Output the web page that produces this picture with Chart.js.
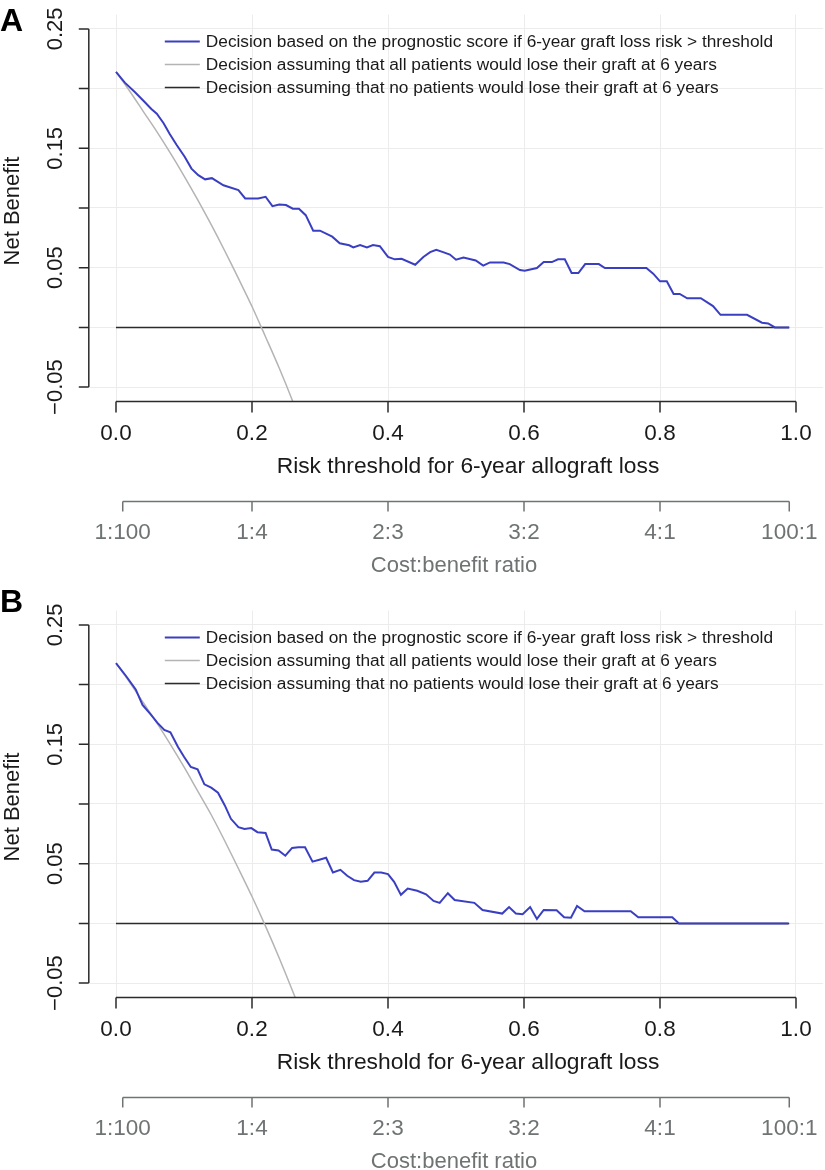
<!DOCTYPE html>
<html>
<head>
<meta charset="utf-8">
<title>Decision curves</title>
<script src="https://cdn.jsdelivr.net/npm/chart.js@4.4.1/dist/chart.umd.min.js"></script>
<style>
  html, body { margin: 0; padding: 0; background: #fff; overflow: hidden; }
  canvas { display: block; }
</style>
</head>
<body>
<canvas id="panelA" width="825" height="576"></canvas>
<canvas id="panelB" width="825" height="594"></canvas>
<script>
// axis ticks and labels
const riskTicks = [0, 0.2, 0.4, 0.6, 0.8, 1.0];
const riskTickLabels = ["0.0", "0.2", "0.4", "0.6", "0.8", "1.0"];
const benefitTicks = [-0.05, 0, 0.05, 0.1, 0.15, 0.2, 0.25];
const benefitTickLabels = ["\u22120.05", "", "0.05", "", "0.15", "", "0.25"];
const ratioTicks = [0.0099, 0.2, 0.4, 0.6, 0.8, 0.9901];
const ratioTickLabels = ["1:100", "1:4", "2:3", "3:2", "4:1", "100:1"];

const legendLabels = [
  "Decision based on the prognostic score if 6-year graft loss risk > threshold",
  "Decision assuming that all patients would lose their graft at 6 years",
  "Decision assuming that no patients would lose their graft at 6 years"
];

// "treat all" curves
const treatAllThresholds = [0, 0.02, 0.04, 0.06, 0.08, 0.10, 0.12, 0.14, 0.16, 0.18, 0.20, 0.22, 0.24, 0.26, 0.28];
const treatAllA = [0.214, 0.198, 0.181, 0.164, 0.146, 0.127, 0.107, 0.086, 0.064, 0.041, 0.0175, -0.008, -0.034, -0.062, -0.092];
const treatAllB = [0.218, 0.202, 0.185, 0.168, 0.150, 0.131, 0.111, 0.091, 0.069, 0.046, 0.0225, -0.0025, -0.029, -0.057, -0.086];

// "treat none" line
const treatNoneThresholds = [0, 0.99];
const treatNoneValues = [0, 0];

// panel A: prognostic score curve
const modelThresholdsA = [
  0, 0.013, 0.028, 0.040, 0.052, 0.060, 0.070, 0.079, 0.089, 0.101, 0.111, 0.121, 0.131, 0.141, 0.158,
  0.180, 0.190, 0.209, 0.220, 0.230, 0.240, 0.250, 0.260, 0.269, 0.279, 0.290, 0.300, 0.318, 0.329, 0.343,
  0.349, 0.359, 0.369, 0.378, 0.388, 0.400, 0.410, 0.420, 0.440, 0.452, 0.462, 0.471, 0.481, 0.491, 0.500,
  0.511, 0.529, 0.540, 0.550, 0.570, 0.579, 0.594, 0.601, 0.619, 0.629, 0.641, 0.650, 0.660, 0.670, 0.680,
  0.690, 0.710, 0.719, 0.780, 0.790, 0.800, 0.810, 0.820, 0.829, 0.840, 0.860, 0.878, 0.889, 0.928, 0.950,
  0.959, 0.969, 0.990
];
const modelNetBenefitA = [
  0.214, 0.205, 0.197, 0.190, 0.183, 0.179, 0.171, 0.162, 0.153, 0.143, 0.133, 0.1275, 0.124, 0.125, 0.119,
  0.115, 0.108, 0.108, 0.1094, 0.1015, 0.103, 0.1025, 0.0994, 0.0994, 0.094, 0.081, 0.081, 0.076, 0.0705, 0.0688,
  0.067, 0.069, 0.067, 0.069, 0.068, 0.059, 0.057, 0.0575, 0.0525, 0.059, 0.063, 0.065, 0.063, 0.061, 0.0567,
  0.0586, 0.056, 0.0517, 0.0544, 0.0544, 0.053, 0.048, 0.0475, 0.0497, 0.0547, 0.0547, 0.057, 0.057, 0.0455, 0.0455,
  0.053, 0.053, 0.0497, 0.0497, 0.045, 0.0386, 0.0386, 0.028, 0.028, 0.0244, 0.0244, 0.0178, 0.0105, 0.0105, 0.0039,
  0.0033, 0, 0
];

// panel B: prognostic score curve
const modelThresholdsB = [
  0, 0.015, 0.029, 0.039, 0.051, 0.061, 0.071, 0.080, 0.091, 0.100, 0.110, 0.120, 0.130, 0.140, 0.150,
  0.160, 0.169, 0.180, 0.189, 0.199, 0.208, 0.220, 0.229, 0.239, 0.249, 0.259, 0.268, 0.278, 0.289, 0.299,
  0.309, 0.319, 0.330, 0.340, 0.350, 0.360, 0.370, 0.380, 0.390, 0.400, 0.409, 0.419, 0.429, 0.443, 0.456,
  0.467, 0.476, 0.488, 0.498, 0.527, 0.539, 0.568, 0.578, 0.588, 0.598, 0.609, 0.619, 0.629, 0.648, 0.659,
  0.669, 0.678, 0.689, 0.757, 0.768, 0.818, 0.828, 0.989
];
const modelNetBenefitB = [
  0.218, 0.207, 0.196, 0.183, 0.175, 0.168, 0.162, 0.160, 0.148, 0.1396, 0.131, 0.129, 0.1165, 0.1137, 0.1095,
  0.0988, 0.0876, 0.0806, 0.079, 0.0798, 0.0764, 0.0758, 0.0618, 0.061, 0.0567, 0.0632, 0.0638, 0.0638, 0.0517, 0.0533,
  0.055, 0.0426, 0.0449, 0.0399, 0.0362, 0.0348, 0.0357, 0.0426, 0.0426, 0.0413, 0.0348, 0.0239, 0.0292, 0.0273, 0.0244,
  0.0188, 0.0172, 0.0253, 0.0196, 0.0172, 0.0112, 0.0082, 0.0137, 0.0082, 0.0076, 0.0137, 0.0037, 0.0112, 0.0110, 0.0051,
  0.0048, 0.0146, 0.0101, 0.0101, 0.0051, 0.0051, 0, 0
];

const modelColor = "#3a3fc2";
const allColor = "#b4b4b4";
const noneColor = "#2b2b2b";
const axisColor = "#2b2b2b";
const ratioColor = "#6f7373";
const gridColor = "#ececec";
const fontFamily = '"Liberation Sans", Arial, Helvetica, sans-serif';

function toPoints(xs, ys) {
  return xs.map((x, i) => ({ x: x, y: ys[i] }));
}

// axes, labels and legend drawn R-style (detached axes)
const decorations = {
  id: "decorations",
  afterDraw(chart, args, opts) {
    const ctx = chart.ctx;
    const x = chart.scales.x;
    const y = chart.scales.y;
    const area = chart.chartArea;
    ctx.save();

    // panel letter
    ctx.fillStyle = "#000";
    ctx.font = "bold 32px " + fontFamily;
    ctx.textAlign = "left";
    ctx.textBaseline = "alphabetic";
    ctx.fillText(opts.letter, 0, opts.letterBaseline);

    // y axis
    const yTop = y.getPixelForValue(benefitTicks[benefitTicks.length - 1]);
    const yBottom = y.getPixelForValue(benefitTicks[0]);
    ctx.strokeStyle = axisColor;
    ctx.lineWidth = 1.5;
    ctx.beginPath();
    ctx.moveTo(area.left, yTop);
    ctx.lineTo(area.left, yBottom);
    benefitTicks.forEach(v => {
      const py = y.getPixelForValue(v);
      ctx.moveTo(area.left - 10, py);
      ctx.lineTo(area.left, py);
    });
    ctx.stroke();

    ctx.fillStyle = "#1a1a1a";
    ctx.font = "22px " + fontFamily;
    ctx.textAlign = "center";
    ctx.textBaseline = "middle";
    benefitTicks.forEach((v, i) => {
      if (!benefitTickLabels[i]) return;
      ctx.save();
      ctx.translate(area.left - 33, y.getPixelForValue(v));
      ctx.rotate(-Math.PI / 2);
      ctx.fillText(benefitTickLabels[i], 0, 0);
      ctx.restore();
    });

    ctx.save();
    ctx.font = "22px " + fontFamily;
    ctx.translate(13, (area.top + area.bottom) / 2 + 3);
    ctx.rotate(-Math.PI / 2);
    ctx.fillText("Net Benefit", 0, 0);
    ctx.restore();

    // x axis: risk threshold
    const xLeft = x.getPixelForValue(riskTicks[0]);
    const xRight = x.getPixelForValue(riskTicks[riskTicks.length - 1]);
    ctx.beginPath();
    ctx.moveTo(xLeft, area.bottom);
    ctx.lineTo(xRight, area.bottom);
    riskTicks.forEach(v => {
      const px = x.getPixelForValue(v);
      ctx.moveTo(px, area.bottom);
      ctx.lineTo(px, area.bottom + 11);
    });
    ctx.stroke();

    ctx.font = "22.5px " + fontFamily;
    riskTicks.forEach((v, i) => {
      ctx.fillText(riskTickLabels[i], x.getPixelForValue(v), area.bottom + 32);
    });
    ctx.font = "22.8px " + fontFamily;
    ctx.fillText("Risk threshold for 6-year allograft loss", (area.left + area.right) / 2 + 12, area.bottom + 65);

    // second x axis: cost:benefit ratio
    const ratioY = area.bottom + 100;
    ctx.strokeStyle = ratioColor;
    ctx.beginPath();
    ctx.moveTo(x.getPixelForValue(ratioTicks[0]), ratioY);
    ctx.lineTo(x.getPixelForValue(ratioTicks[ratioTicks.length - 1]), ratioY);
    ratioTicks.forEach(v => {
      const px = x.getPixelForValue(v);
      ctx.moveTo(px, ratioY);
      ctx.lineTo(px, ratioY + 10);
    });
    ctx.stroke();

    ctx.fillStyle = ratioColor;
    ctx.font = "22.5px " + fontFamily;
    ratioTicks.forEach((v, i) => {
      ctx.fillText(ratioTickLabels[i], x.getPixelForValue(v), ratioY + 31);
    });
    ctx.font = "22px " + fontFamily;
    ctx.fillText("Cost:benefit ratio", (area.left + area.right) / 2 - 2, ratioY + 65);

    // legend inside the plot
    const legendColors = [modelColor, allColor, noneColor];
    const legendWidths = [2, 1.5, 1.5];
    ctx.font = "17.3px " + fontFamily;
    ctx.textAlign = "left";
    legendLabels.forEach((label, i) => {
      const ly = area.top + 27 + i * 23;
      ctx.strokeStyle = legendColors[i];
      ctx.lineWidth = legendWidths[i];
      ctx.beginPath();
      ctx.moveTo(area.left + 76, ly);
      ctx.lineTo(area.left + 111, ly);
      ctx.stroke();
      ctx.fillStyle = "#1a1a1a";
      ctx.fillText(label, area.left + 117, ly + 1);
    });

    ctx.restore();
  }
};

function makePanel(canvasId, letter, letterBaseline, shiftY, modelX, modelY, allY) {
  const canvas = document.getElementById(canvasId);
  const plotTop = 14.6 + shiftY;
  const plotBottom = 401.4 + shiftY;

  return new Chart(canvas, {
    type: "line",
    data: {
      datasets: [
        {
          label: legendLabels[0],
          data: toPoints(modelX, modelY),
          borderColor: modelColor,
          borderWidth: 2,
          pointRadius: 0,
          tension: 0,
          fill: false
        },
        {
          label: legendLabels[1],
          data: toPoints(treatAllThresholds, allY),
          borderColor: allColor,
          borderWidth: 1.5,
          pointRadius: 0,
          tension: 0.3,
          fill: false
        },
        {
          label: legendLabels[2],
          data: toPoints(treatNoneThresholds, treatNoneValues),
          borderColor: noneColor,
          borderWidth: 1.5,
          pointRadius: 0,
          fill: false
        }
      ]
    },
    options: {
      responsive: false,
      animation: false,
      events: [],
      layout: {
        padding: { left: 88.8, right: 1.8, top: plotTop, bottom: canvas.height - plotBottom }
      },
      plugins: {
        legend: { display: false },
        tooltip: { enabled: false },
        decorations: { letter: letter, letterBaseline: letterBaseline }
      },
      scales: {
        x: {
          type: "linear",
          min: -0.04,
          max: 1.04,
          afterBuildTicks: s => { s.ticks = riskTicks.map(v => ({ value: v })); },
          afterFit: s => { s.height = 0; },
          ticks: { display: false },
          grid: { color: gridColor, lineWidth: 1, drawTicks: false },
          border: { display: false }
        },
        y: {
          type: "linear",
          min: -0.062,
          max: 0.262,
          afterBuildTicks: s => { s.ticks = benefitTicks.map(v => ({ value: v })); },
          afterFit: s => { s.width = 0; },
          ticks: { display: false },
          grid: { color: gridColor, lineWidth: 1, drawTicks: false },
          border: { display: false }
        }
      }
    },
    plugins: [decorations]
  });
}

makePanel("panelA", "A", 31, 0, modelThresholdsA, modelNetBenefitA, treatAllA);
makePanel("panelB", "B", 36, 20, modelThresholdsB, modelNetBenefitB, treatAllB);
</script>
</body>
</html>
